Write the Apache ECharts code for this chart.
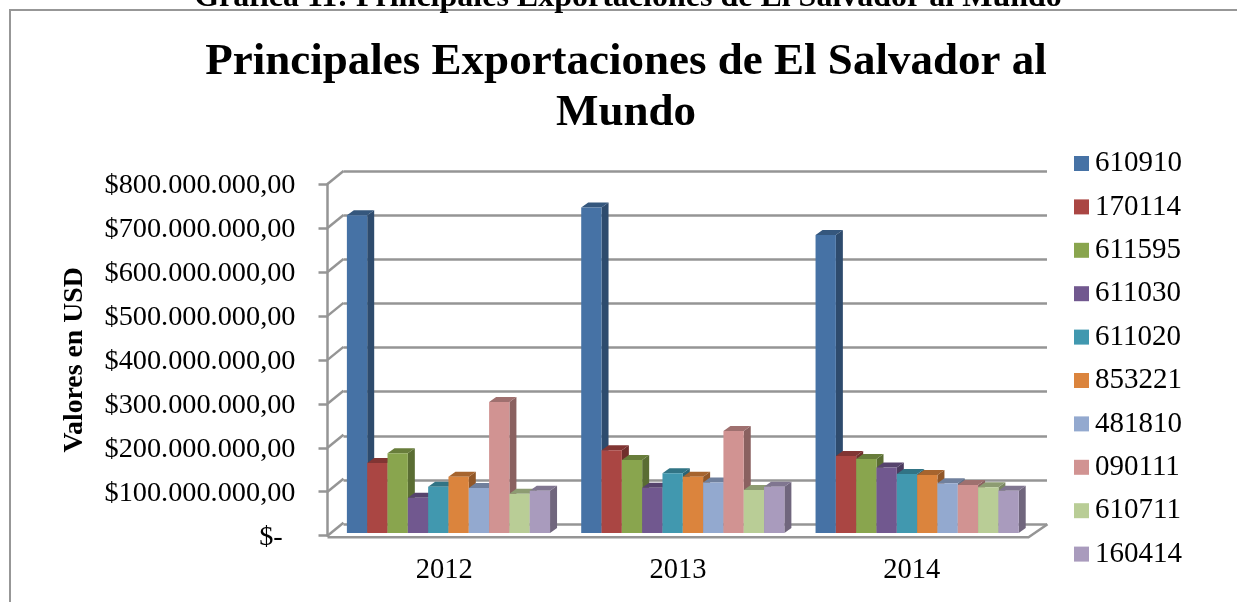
<!DOCTYPE html>
<html>
<head>
<meta charset="utf-8">
<title>Principales Exportaciones de El Salvador al Mundo</title>
<script src="https://cdn.jsdelivr.net/npm/echarts@6/dist/echarts.min.js"></script>
<style>
  html, body { margin: 0; padding: 0; background: #fff; overflow: hidden; }
  #main { width: 1237px; height: 602px; }
</style>
</head>
<body>
<div id="main"></div>
<script>
const years = ["2012", "2013", "2014"];
const products = ["610910", "170114", "611595", "611030", "611020", "853221", "481810", "090111", "610711", "160414"];
const colors = ["#4672A5", "#AA4643", "#89A54E", "#71588F", "#4198AF", "#DB843D", "#93A9CF", "#D19392", "#B9CD96", "#A99BBD"];

// valores en USD
const v610910 = [722000000, 740000000, 677000000];
const v170114 = [159000000, 188000000, 175000000];
const v611595 = [181000000, 166000000, 168000000];
const v611030 = [80000000, 103000000, 149000000];
const v611020 = [105000000, 136000000, 134000000];
const v853221 = [128000000, 128000000, 132000000];
const v481810 = [102000000, 115000000, 113000000];
const v090111 = [298000000, 232000000, 109000000];
const v610711 = [89000000, 98000000, 104000000];
const v160414 = [96000000, 105000000, 96000000];
const seriesValues = [v610910, v170114, v611595, v611030, v611020, v853221, v481810, v090111, v610711, v160414];

const tickValues = [0, 100000000, 200000000, 300000000, 400000000, 500000000, 600000000, 700000000, 800000000];
const tickLabels = ["$-\u00A0\u2009", "$100.000.000,00", "$200.000.000,00", "$300.000.000,00", "$400.000.000,00", "$500.000.000,00", "$600.000.000,00", "$700.000.000,00", "$800.000.000,00"];

const FONT = "Liberation Serif";
const LINE = "#959595";
const FRONT = 0, BACK = 1, BARS = 2;

// profundidad de las paredes y de las barras
const wallDX = 16, wallDY = -13;
const barDX = 7, barDY = -5;

// oscurece un color hex para los lados de las barras
function darken(hex, factor) {
  const n = parseInt(hex.slice(1), 16);
  const r = Math.round(((n >> 16) & 255) * factor);
  const g = Math.round(((n >> 8) & 255) * factor);
  const b = Math.round((n & 255) * factor);
  return "rgb(" + r + "," + g + "," + b + ")";
}

// las diagonales de la pared izquierda y el piso
function renderWall(params, api) {
  const cs = params.coordSys;
  const p = api.coord([0, api.value(0)]);
  const left = cs.x;
  const style = { stroke: LINE, lineWidth: 2.5, fill: null };
  const children = [{
    type: "line",
    shape: { x1: left, y1: p[1], x2: left + wallDX, y2: p[1] + wallDY },
    style: style,
  }];
  if (api.value(0) === 0) {
    const floorY = p[1] + 1.5;
    const right = cs.x + cs.width;
    children.push({
      type: "polyline",
      shape: { points: [[left, floorY], [right, floorY], [right + 19, floorY + wallDY]] },
      style: style,
    });
  }
  return { type: "group", children: children };
}

function barRenderer(index) {
  return function (params, api) {
    const base = api.coord([api.value(0), 0]);
    const top = api.coord([api.value(0), api.value(1)]);
    const band = api.size([1, 0])[0];
    const w = band * 0.0867;
    const x = base[0] - (w * products.length) / 2 + w * index;
    const color = colors[index];
    return {
      type: "group",
      children: [
        {
          type: "polygon",
          shape: { points: [[x + w, top[1]], [x + w + barDX, top[1] + barDY], [x + w + barDX, base[1] + barDY], [x + w, base[1]]] },
          style: { fill: darken(color, 0.66) },
        },
        {
          type: "polygon",
          shape: { points: [[x, top[1]], [x + barDX, top[1] + barDY], [x + w + barDX, top[1] + barDY], [x + w, top[1]]] },
          style: { fill: darken(color, 0.76) },
        },
        {
          type: "rect",
          shape: { x: x, y: top[1], width: w, height: base[1] - top[1] },
          style: { fill: color },
        },
      ],
    };
  };
}

const barSeries = products.map(function (name, i) {
  return {
    name: name,
    type: "custom",
    xAxisIndex: BARS,
    yAxisIndex: BARS,
    itemStyle: { color: colors[i] },
    renderItem: barRenderer(i),
    data: years.map(function (y, j) { return [j, seriesValues[i][j]]; }),
    z: 5,
  };
});

const myChart = echarts.init(document.getElementById("main"));
myChart.setOption({
  animation: false,
  backgroundColor: "#fff",
  textStyle: { fontFamily: FONT, color: "#000" },
  title: [
    {
      text: "Principales Exportaciones de El Salvador al\nMundo",
      left: 621,
      top: 32,
      textAlign: "center",
      textStyle: { fontFamily: FONT, fontSize: 45, fontWeight: "bold", lineHeight: 51, color: "#000" },
    },
  ],
  graphic: [
    {
      type: "rect",
      z: -1,
      shape: { x: 10, y: 10, width: 1400, height: 800 },
      style: { fill: "#fff", stroke: "#979797", lineWidth: 2 },
    },
    {
      type: "text",
      z: 1,
      x: 628,
      y: -18,
      style: {
        text: "Gráfica 11: Principales Exportaciones de El Salvador al Mundo",
        font: "bold 32px '" + FONT + "'",
        fill: "#000",
        align: "center",
      },
    },
  ],
  legend: {
    orient: "vertical",
    left: 1074,
    top: 149,
    padding: 0,
    icon: "rect",
    itemWidth: 15,
    itemHeight: 15,
    itemGap: 14.4,
    selectedMode: false,
    data: products,
    textStyle: { fontFamily: FONT, fontSize: 29, color: "#000", padding: [0, 0, 0, 1] },
  },
  grid: [
    { left: 327.5, top: 184, width: 701, height: 351.7 },
    { left: 343.5, top: 171, width: 703.5, height: 353 },
    { left: 331.3, top: 181, width: 703, height: 352 },
  ],
  xAxis: [
    {
      gridIndex: FRONT,
      type: "category",
      data: years,
      axisLine: { show: false },
      axisTick: { show: false },
      axisLabel: { fontFamily: FONT, fontSize: 28.5, color: "#000", margin: 20 },
    },
    { gridIndex: BACK, type: "category", data: years, show: false },
    { gridIndex: BARS, type: "category", data: years, show: false },
  ],
  yAxis: [
    {
      gridIndex: FRONT,
      type: "value",
      min: 0,
      max: 800000000,
      interval: 100000000,
      name: "Valores en USD",
      nameLocation: "middle",
      nameGap: 239,
      nameTextStyle: { fontFamily: FONT, fontSize: 27.8, fontWeight: "bold", color: "#000" },
      axisLine: { show: true, lineStyle: { color: LINE, width: 2.5 } },
      axisTick: { show: true, length: 9, lineStyle: { color: LINE, width: 2.5 } },
      splitLine: { show: false },
      axisLabel: {
        fontFamily: FONT,
        fontSize: 28.3,
        color: "#000",
        margin: 32,
        verticalAlign: "top",
        lineHeight: 4,
        formatter: function (v) { return tickLabels[tickValues.indexOf(v)]; },
      },
    },
    {
      gridIndex: BACK,
      type: "value",
      min: 0,
      max: 800000000,
      interval: 100000000,
      axisLine: { show: false },
      axisTick: { show: false },
      axisLabel: { show: false },
      splitLine: { show: true, lineStyle: { color: LINE, width: 2.5 } },
    },
    { gridIndex: BARS, type: "value", min: 0, max: 800000000, interval: 100000000, show: false, splitLine: { show: false } },
  ],
  series: [
    {
      type: "custom",
      xAxisIndex: FRONT,
      yAxisIndex: FRONT,
      renderItem: renderWall,
      encode: { y: 0 },
      data: tickValues.map(function (v) { return [v]; }),
      silent: true,
      z: 1,
    },
  ].concat(barSeries),
});
</script>
</body>
</html>
